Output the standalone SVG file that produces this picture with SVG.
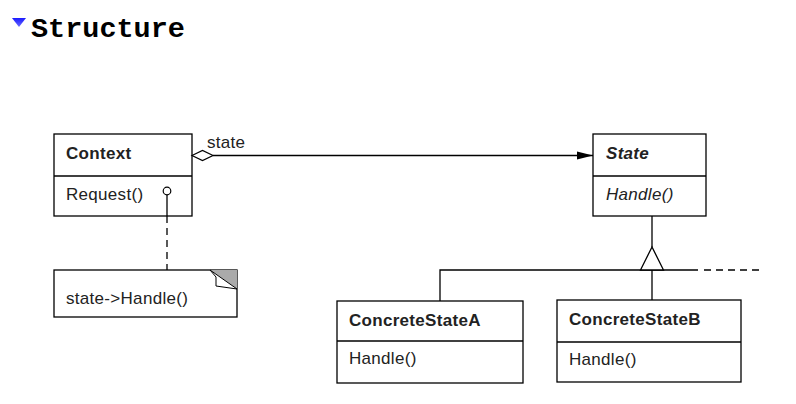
<svg xmlns="http://www.w3.org/2000/svg" width="796" height="404" viewBox="0 0 796 404">
  <style>
    .box { fill: #fff; stroke: #000; stroke-width: 1.3; }
    .ln { fill: none; stroke: #000; stroke-width: 1.3; }
    .dash { fill: none; stroke: #000; stroke-width: 1.3; stroke-dasharray: 7 5; }
    .t { font-family: "Liberation Sans", Arial, sans-serif; font-size: 17px; letter-spacing: 0.3px; fill: #222; }
    .b { font-weight: bold; }
    .i { font-style: italic; }
    .title { font-family: "Liberation Mono", "Courier New", monospace; font-size: 28.5px; font-weight: bold; fill: #000; }
  </style>
  <defs>
    <linearGradient id="tri" x1="0" y1="0" x2="0" y2="1">
      <stop offset="0" stop-color="#1a1aff"/>
      <stop offset="1" stop-color="#6a6aff"/>
    </linearGradient>
    <marker id="arrow" markerWidth="16" markerHeight="10" refX="16" refY="5" orient="auto" markerUnits="userSpaceOnUse">
      <path d="M0,1 L16,5 L0,9 Z" fill="#000"/>
    </marker>
  </defs>

  <!-- heading -->
  <g id="heading">
    <path d="M12,18 L26,18 L19,27 Z" fill="url(#tri)"/>
    <text class="title" x="31" y="37">Structure</text>
  </g>

  <!-- Context -->
  <g id="context">
    <rect class="box" x="54" y="134" width="138" height="82"/>
    <path class="ln" d="M54,176 L192,176"/>
    <text class="t b" x="66" y="159">Context</text>
    <text class="t" x="66" y="200">Request()</text>
  </g>

  <!-- note with folded corner -->
  <g id="note">
    <rect class="box" x="54" y="270" width="183" height="47"/>
    <path d="M210,270 L237,270 L237,289 Z" fill="#aaa"/>
    <path d="M210,270 L216,277 L216,286 L237,289 Z" fill="#fff" stroke="#000" stroke-width="1"/>
    <text class="t" x="66" y="304">state-&gt;Handle()</text>
  </g>

  <!-- State -->
  <g id="state">
    <rect class="box" x="593" y="134" width="113" height="82"/>
    <path class="ln" d="M593,176 L706,176"/>
    <text class="t b i" x="606" y="159">State</text>
    <text class="t i" x="606" y="200">Handle()</text>
  </g>

  <!-- ConcreteStateA -->
  <g id="concreteStateA">
    <rect class="box" x="337" y="301" width="186" height="82"/>
    <path class="ln" d="M337,341 L523,341"/>
    <text class="t b" x="349" y="326">ConcreteStateA</text>
    <text class="t" x="349" y="364">Handle()</text>
  </g>

  <!-- ConcreteStateB -->
  <g id="concreteStateB">
    <rect class="box" x="557" y="300" width="184" height="82"/>
    <path class="ln" d="M557,342 L741,342"/>
    <text class="t b" x="569" y="325">ConcreteStateB</text>
    <text class="t" x="569" y="365">Handle()</text>
  </g>

  <!-- connectors -->
  <g id="connectors">
    <!-- Context aggregates State -->
    <path class="ln" d="M213,155.5 L593,155.5" marker-end="url(#arrow)"/>
    <path d="M192,155.5 L202.5,150.5 L213,155.5 L202.5,160.5 Z" fill="#fff" stroke="#000" stroke-width="1.2"/>
    <text class="t" x="207" y="148">state</text>
    <!-- note link -->
    <circle cx="167" cy="191" r="3.8" fill="#fff" stroke="#000" stroke-width="1.2"/>
    <path class="ln" d="M167,194.8 L167,216"/>
    <path class="dash" d="M167,216 L167,270"/>
    <!-- inheritance -->
    <path class="ln" d="M652,216 L652,247"/>
    <path class="ln" d="M440,301 L440,270 L698,270"/>
    <path class="ln" d="M652,270 L652,300"/>
    <path d="M652,247 L640.5,270 L663.5,270 Z" fill="#fff" stroke="#000" stroke-width="1.3"/>
    <path class="dash" d="M704,270 L760,270"/>
  </g>
</svg>
